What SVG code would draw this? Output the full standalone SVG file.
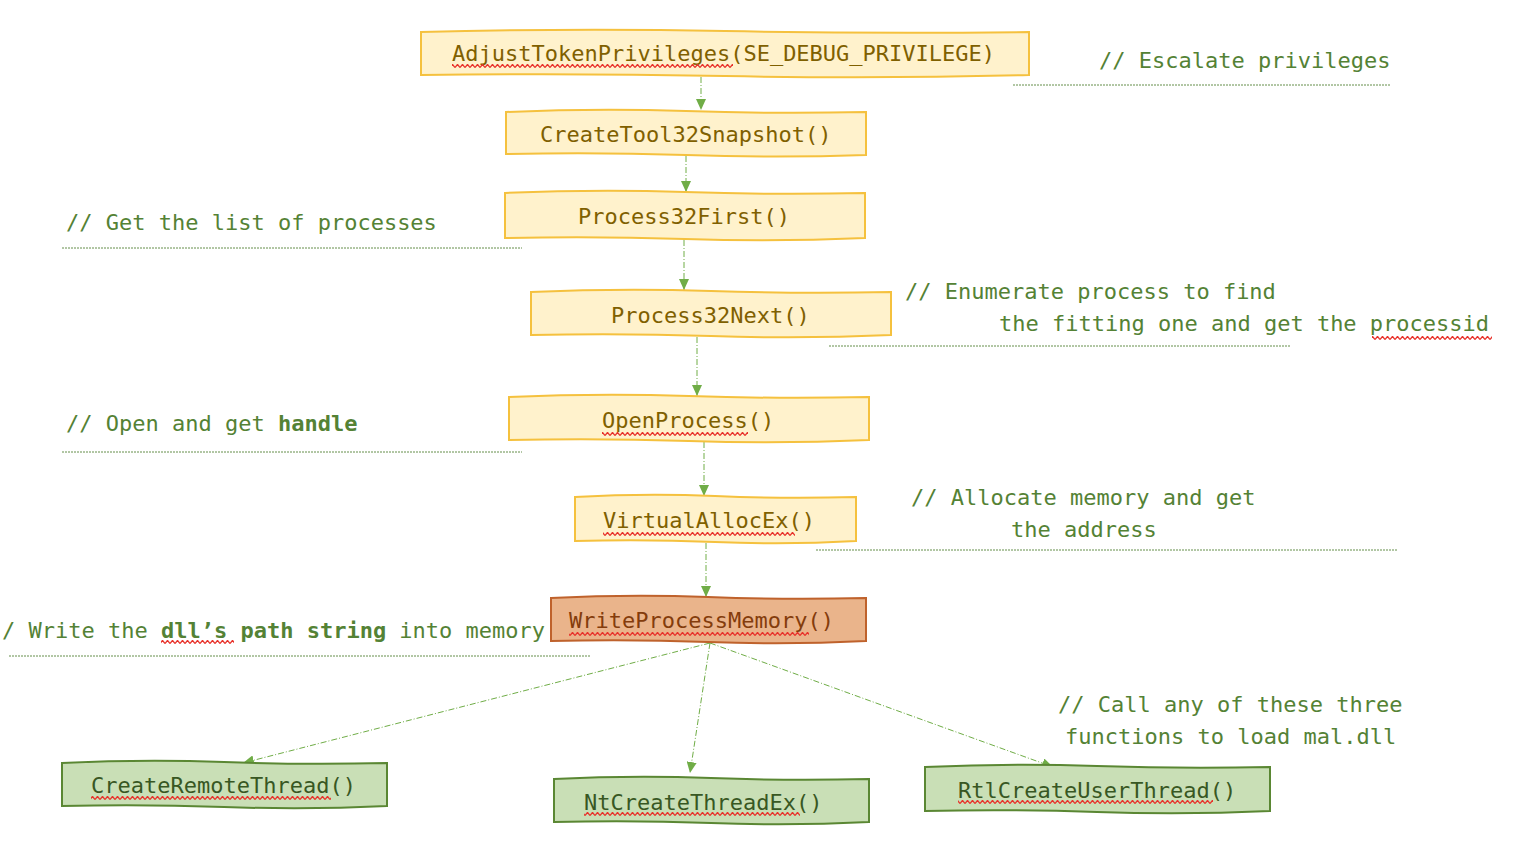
<svg xmlns="http://www.w3.org/2000/svg" width="1516" height="842" viewBox="0 0 1516 842">
<defs>
<style>
.t{font-family:"DejaVu Sans Mono","Liberation Mono",monospace;font-size:22px}
.y{fill:#fff2cc;stroke:#f5c13e;stroke-width:2}
.o{fill:#eab48b;stroke:#bf622c;stroke-width:2}
.g{fill:#c9dfb6;stroke:#5a8733;stroke-width:2}
.ty{fill:#7f6000}
.to{fill:#843c0c}
.tg{fill:#385723}
.c{fill:#548235}
.ul{stroke:#548235;stroke-width:0.9;stroke-dasharray:2 1;fill:none}
.e{stroke:#70ad47;stroke-width:1;stroke-dasharray:6 2 1 2;fill:none;marker-end:url(#ah)}
.sq{fill:url(#sq)}
</style>
<marker id="ah" markerUnits="userSpaceOnUse" markerWidth="11" markerHeight="10" refX="11" refY="5" orient="auto">
<path d="M0 0 L11 5 L0 10 Z" fill="#70ad47"/>
</marker>
<pattern id="sq" patternUnits="userSpaceOnUse" width="5" height="4">
<path d="M0 3.6 L2.5 0.4 L5 3.6" stroke="#e8322b" stroke-width="1.3" fill="none"/>
</pattern>
</defs>
<rect width="1516" height="842" fill="#ffffff"/>

<g id="connectors">
<line class="e" x1="701" y1="77" x2="701" y2="110"/>
<line class="e" x1="686" y1="156" x2="686" y2="192"/>
<line class="e" x1="684" y1="240" x2="684" y2="290"/>
<line class="e" x1="697" y1="337" x2="697" y2="396"/>
<line class="e" x1="704" y1="442" x2="704" y2="496"/>
<line class="e" x1="706" y1="543" x2="706" y2="597"/>
<line class="e" x1="710" y1="643" x2="243" y2="763"/>
<line class="e" x1="710" y1="643" x2="690" y2="773"/>
<line class="e" x1="710" y1="643" x2="1053" y2="767"/>
</g>

<g id="n1">
<path class="y" d="M421 32 Q573 28 725 31 T1029 32 L1029 75 Q877 79 725 76 T421 75 Z"/>
<text class="t ty" x="452" y="61">AdjustTokenPrivileges(SE_DEBUG_PRIVILEGE)</text>
<rect class="sq" x="452" y="64" width="281" height="4"/>
</g>
<g id="n2">
<path class="y" d="M506 112 Q596 108 686 111 T866 112 L866 155 Q776 158 686 155 T506 154 Z"/>
<text class="t ty" x="540" y="142">CreateTool32Snapshot()</text>
</g>
<g id="n3">
<path class="y" d="M505 193 Q595 189 685 192 T865 193 L865 238 Q775 242 685 239 T505 238 Z"/>
<text class="t ty" x="578" y="224">Process32First()</text>
</g>
<g id="n4">
<path class="y" d="M531 292 Q621 288 711 291 T891 292 L891 335 Q801 339 711 336 T531 335 Z"/>
<text class="t ty" x="611" y="323">Process32Next()</text>
</g>
<g id="n5">
<path class="y" d="M509 397 Q599 393 689 396 T869 397 L869 440 Q779 444 689 441 T509 440 Z"/>
<text class="t ty" x="602" y="428">OpenProcess()</text>
<rect class="sq" x="602" y="432" width="146" height="4"/>
</g>
<g id="n6">
<path class="y" d="M575 497 Q645 493 715 496 T856 497 L856 541 Q786 545 715 542 T575 541 Z"/>
<text class="t ty" x="603" y="528">VirtualAllocEx()</text>
<rect class="sq" x="603" y="532" width="192" height="4"/>
</g>
<g id="n7">
<path class="o" d="M551 598 Q630 594 708 597 T866 598 L866 641 Q787 645 708 642 T551 641 Z"/>
<text class="t to" x="569" y="628">WriteProcessMemory()</text>
<rect class="sq" x="569" y="632" width="240" height="4"/>
</g>
<g id="n8">
<path class="g" d="M62 763 Q143 759 224 762 T387 763 L387 806 Q306 810 224 807 T62 806 Z"/>
<text class="t tg" x="91" y="793">CreateRemoteThread()</text>
<rect class="sq" x="91" y="796" width="240" height="4"/>
</g>
<g id="n9">
<path class="g" d="M554 779 Q633 775 711 778 T869 779 L869 822 Q790 826 711 823 T554 822 Z"/>
<text class="t tg" x="584" y="810">NtCreateThreadEx()</text>
<rect class="sq" x="584" y="812" width="216" height="4"/>
</g>
<g id="n10">
<path class="g" d="M925 767 Q1011 763 1097 766 T1270 767 L1270 811 Q1184 815 1097 812 T925 811 Z"/>
<text class="t tg" x="958" y="798">RtlCreateUserThread()</text>
<rect class="sq" x="958" y="800" width="255" height="4"/>
</g>

<g id="comments">
<text class="t c" x="1099" y="68">// Escalate privileges</text>
<line class="ul" x1="1013" y1="85" x2="1391" y2="85"/>
<text class="t c" x="66" y="230">// Get the list of processes</text>
<line class="ul" x1="62" y1="248" x2="522" y2="248"/>
<text class="t c" x="905" y="299">// Enumerate process to find</text>
<text class="t c" x="999" y="331">the fitting one and get the processid</text>
<rect class="sq" x="1372" y="336" width="120" height="4"/>
<line class="ul" x1="829" y1="346" x2="1290" y2="346"/>
<text class="t c" x="66" y="431">// Open and get <tspan font-weight="bold">handle</tspan></text>
<line class="ul" x1="62" y1="452" x2="522" y2="452"/>
<text class="t c" x="911" y="505">// Allocate memory and get</text>
<text class="t c" x="1011" y="537">the address</text>
<line class="ul" x1="816" y1="550" x2="1397" y2="550"/>
<text class="t c" x="2" y="638">/ Write the <tspan font-weight="bold">dll’s path string</tspan> into memory</text>
<rect class="sq" x="161" y="640" width="73" height="4"/>
<line class="ul" x1="9" y1="656" x2="590" y2="656"/>
<text class="t c" x="1058" y="712">// Call any of these three</text>
<text class="t c" x="1065" y="744">functions to load mal.dll</text>
</g>
</svg>
